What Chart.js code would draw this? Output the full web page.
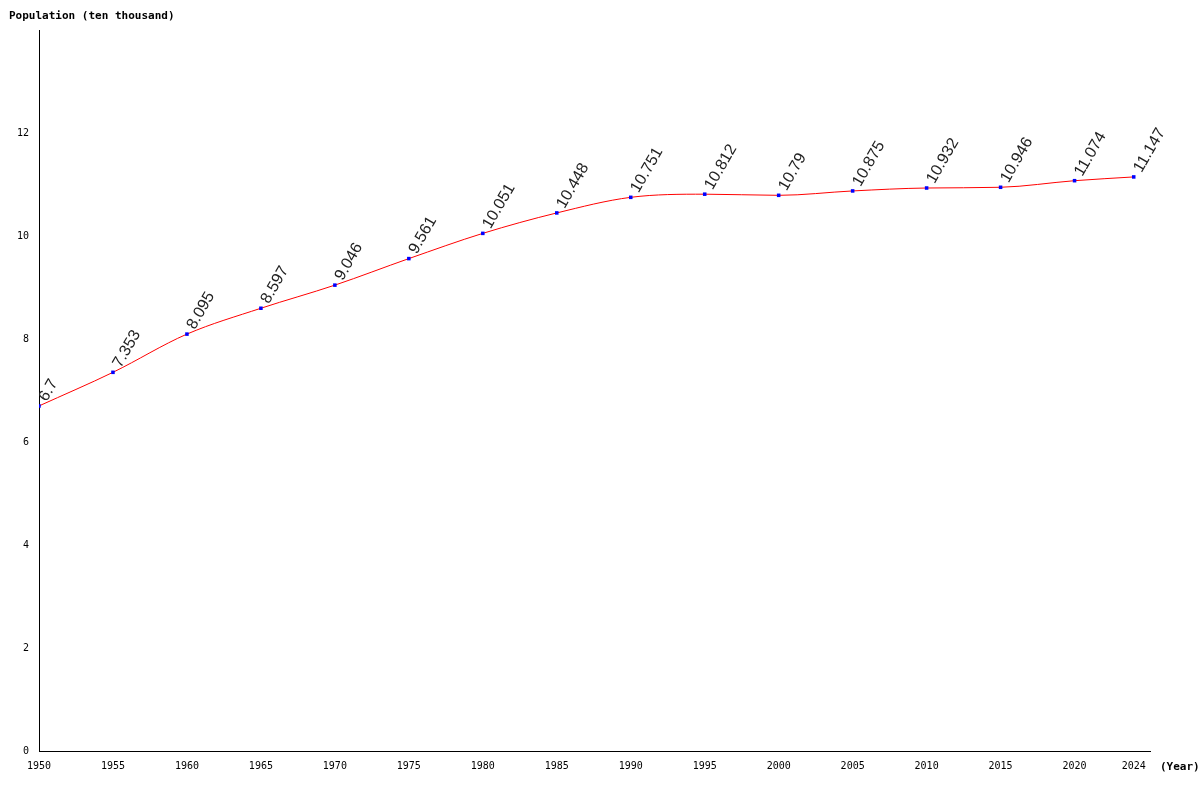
<!DOCTYPE html>
<html><head><meta charset="utf-8">
<script src="https://cdn.jsdelivr.net/npm/chart.js@4/dist/chart.umd.min.js"></script>
<style>html,body{margin:0;padding:0;background:#fff}#w{width:1200px;height:800px}</style>
</head><body><div id="w"><canvas id="c"></canvas></div>
<script>
const years = [1950,1955,1960,1965,1970,1975,1980,1985,1990,1995,2000,2005,2010,2015,2020,2024];
const population = [6.7,7.353,8.095,8.597,9.046,9.561,10.051,10.448,10.751,10.812,10.79,10.875,10.932,10.946,11.074,11.147];
const yTicks = [0,2,4,6,8,10,12];
const yTitle = 'Population (ten thousand)';
const xTitle = '(Year)';

const labelPlugin = {
  id:'labels',
  afterDatasetsDraw(chart){
    const ctx = chart.ctx, meta = chart.getDatasetMeta(0);
    ctx.save();
    ctx.font = '16px "Liberation Sans", Arial, sans-serif';
    ctx.fillStyle = '#222';
    meta.data.forEach((p,i)=>{
      ctx.save();
      ctx.translate(p.x+4, p.y-6);
      ctx.rotate(-60*Math.PI/180);
      ctx.textAlign='left'; ctx.textBaseline='middle';
      ctx.fillText(String(population[i]),0,0);
      ctx.restore();
    });
    ctx.font = 'bold 11px "DejaVu Sans Mono", monospace';
    ctx.fillStyle='#000';
    ctx.textBaseline='middle';
    ctx.textAlign='left';
    ctx.fillText(yTitle, 9, 16);
    ctx.fillText(xTitle, 1160, 767);
    ctx.restore();
  }
};

new Chart(document.getElementById('c'),{
  type:'line',
  data:{datasets:[{
    data: years.map((y,i)=>({x:y,y:population[i]})),
    borderColor:'#ff0000', borderWidth:1, tension:0.4, cubicInterpolationMode:'monotone',
    pointStyle:'rect', pointRadius:2.5, pointBackgroundColor:'#0000ff', pointBorderColor:'#0000ff', pointBorderWidth:0
  }]},
  options:{
    responsive:true, maintainAspectRatio:false, animation:false,
    layout:{padding:{top:30,right:50,left:0,bottom:0}},
    plugins:{legend:{display:false},tooltip:{enabled:false}},
    scales:{
      x:{type:'linear', min:1950, max:2025.1,
        afterBuildTicks(s){ s.ticks = years.map(v=>({value:v})); },
        afterFit(s){ s.height=49; },
        grid:{display:false, drawTicks:true, tickLength:5, tickColor:'#000'},
        border:{color:'#000'},
        ticks:{autoSkip:false, maxRotation:0, color:'#000', padding:4,
          font:{family:'"DejaVu Sans Mono", monospace', size:10}, callback:v=>String(v)}
      },
      y:{min:0, max:14,
        afterBuildTicks(s){ s.ticks = yTicks.map(v=>({value:v})); },
        afterFit(s){ s.width=39; },
        grid:{display:false, drawTicks:true, tickLength:4, tickColor:'#000'},
        border:{color:'#000'},
        ticks:{color:'#000', padding:6, font:{family:'"DejaVu Sans Mono", monospace', size:10}}
      }
    }
  },
  plugins:[labelPlugin]
});
</script></body></html>
